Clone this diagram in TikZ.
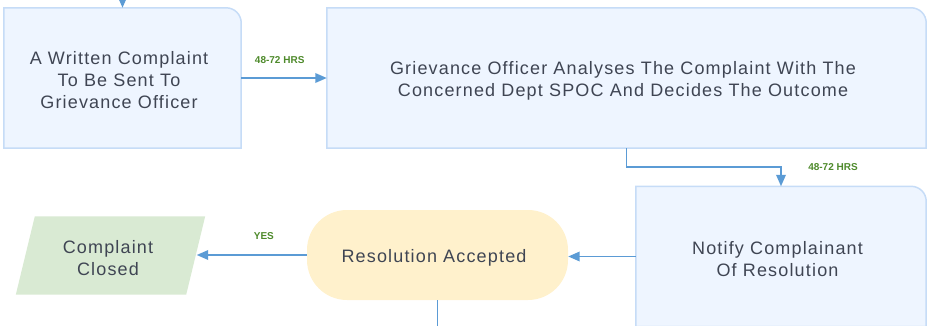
\documentclass[tikz,border=0pt]{standalone}
\usepackage{fontspec}
\setmainfont{Liberation Sans}
\newfontfamily\cardfont{Liberation Sans}[LetterSpace=6.5]
\usetikzlibrary{arrows.meta,backgrounds}

\definecolor{cardfill}{HTML}{EEF5FF}
\definecolor{cardline}{HTML}{C6DCF7}
\definecolor{flow}{HTML}{5B9BD5}
\definecolor{txt}{HTML}{3F4553}
\definecolor{tag}{HTML}{4E8A2B}
\definecolor{okfill}{HTML}{FFF1CC}
\definecolor{closedfill}{HTML}{D9EAD3}

\tikzset{
  textrows/.style={execute at begin node={\rule{0pt}{\the\numexpr22*#1-4\relax pt}}},
  card/.style={minimum height=140pt,align=center,text=txt,inner sep=0pt,
    font=\cardfont\fontsize{18}{22}\selectfont,textrows=1,
    execute at end node={\kern7pt}},
  flowarrow/.style={draw=flow,line width=1.8pt,-{Triangle[length=11.5pt,width=9.5pt]}},
  hrs/.style={text=tag,font=\fontsize{10}{12}\selectfont\bfseries},
}

%% box with one rounded corner (top right)
\newcommand{\cardshape}[1]{%
  \filldraw[fill=cardfill,draw=cardline,line width=1.5pt]
    (#1.south west) -- (#1.north west) -- ([xshift=-15pt]#1.north east)
    arc[start angle=90,end angle=0,radius=15pt] -- (#1.south east) -- cycle;}

\begin{document}
\begin{tikzpicture}[x=1pt,y=-1pt]
    \useasboundingbox (0,0) rectangle (934,326);
    %% Steps
    \node[card,textrows=3,minimum width=237pt] (written) at (122.5,78) {A Written Complaint\\To Be Sent To\\Grievance Officer};
    \node[card,textrows=2,minimum width=599pt] (analyse) at (626.5,78) {Grievance Officer Analyses The Complaint With The\\Concerned Dept SPOC And Decides The Outcome};
    \node[card,textrows=2,minimum width=290pt] (notify) at (781,256.5) {Notify Complainant\\Of Resolution};
    \node[card,minimum width=261pt,minimum height=90pt,fill=okfill,rounded corners=40pt] (accepted) at (437.5,255) {Resolution Accepted};
    \node[card,textrows=2,minimum width=170pt,minimum height=78pt] (closed) at (111.5,255.5) {Complaint\\Closed};
    %% Shapes
    \begin{scope}[on background layer]
        \cardshape{written}
        \cardshape{analyse}
        \cardshape{notify}
        \fill[closedfill] ([xshift=8.5pt]closed.north west) -- ([xshift=8.5pt]closed.north east)
            -- ([xshift=-10.5pt]closed.south east) -- ([xshift=-10.5pt]closed.south west) -- cycle;
    \end{scope}
    %% Flow
    \coordinate (start) at (122.5,-5);
    \draw[flowarrow] (start) -- (written.north);
    \draw[flowarrow] (written) -- (analyse) node[hrs,pos=0.45,above=10pt] {48-72 HRS};
    \draw[flowarrow] (analyse.south) -- ++(0,18.5) -| (notify.north);
    \node[hrs] (hrsnotify) at (833,167) {48-72 HRS};
    \draw[flowarrow] (notify.west) -- (notify.west -| accepted.east);
    \draw[flowarrow] (accepted.west) -- (accepted.west -| closed.east) node[hrs,pos=0.39,above=11pt] {YES};
    \draw[draw=flow,line width=1.8pt] (accepted.south) -- ++(0,40);
\end{tikzpicture}
\end{document}
